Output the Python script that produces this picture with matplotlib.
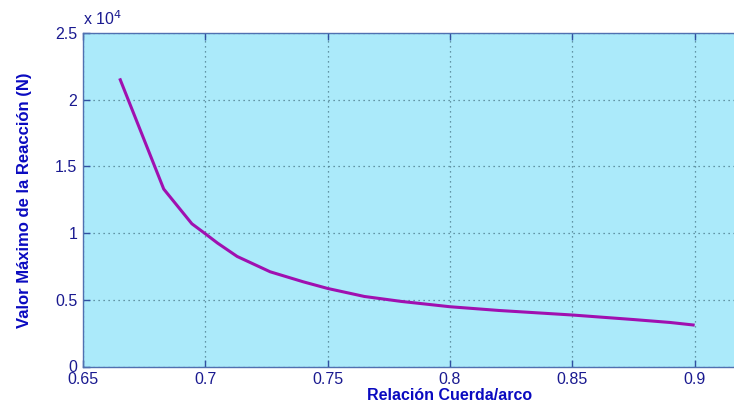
import matplotlib.pyplot as plt
from matplotlib.ticker import FuncFormatter

# relacion cuerda/arco vs valor maximo de la reaccion
relacion = [0.665, 0.683, 0.6945, 0.700, 0.705, 0.713, 0.7265, 0.740, 0.750,
            0.765, 0.780, 0.800, 0.820, 0.850, 0.875, 0.890, 0.900]
reaccion = [21600, 13300, 10700, 9950, 9250, 8250, 7100, 6350, 5850,
            5250, 4880, 4480, 4200, 3860, 3520, 3300, 3100]

xticks = [0.65, 0.7, 0.75, 0.8, 0.85, 0.9]
yticks = [0, 5000, 10000, 15000, 20000, 25000]

plt.rcParams['font.family'] = ['Liberation Sans', 'DejaVu Sans']

fig = plt.figure(figsize=(7.34, 4.07), dpi=100)
# eje derecho queda fuera de la imagen (xlim hasta 0.95)
ax = fig.add_axes([83 / 734, 1 - 366.5 / 407, 734 / 734, 333.5 / 407])
ax.set_facecolor('#abeafa')

ax.plot(relacion, reaccion, color='#a010b0', linewidth=2.2, solid_capstyle='butt')

ax.set_xlim(0.65, 0.95)
ax.set_ylim(0, 25000)
ax.set_xticks(xticks)
ax.set_yticks(yticks)
ax.xaxis.set_major_formatter(FuncFormatter(lambda v, p: ('%g' % round(v, 2))))
ax.yaxis.set_major_formatter(FuncFormatter(lambda v, p: ('%g' % (v / 1e4))))

ax.grid(True, linestyle=(0, (1, 3)), color='#4a7a8a', linewidth=0.9)
ax.tick_params(direction='in', length=5, width=1, color='#3050a0',
               labelcolor='#1a1a90', labelsize=11.5, top=True, right=True, pad=4)
for s in ax.spines.values():
    s.set_color('#5070b0')
    s.set_linewidth(1.0)

ax.set_xlabel('Relación Cuerda/arco', color='#0a0ac0', fontsize=11.5,
              fontweight='bold', labelpad=1)
ax.set_ylabel('Valor Máximo de la Reacción (N)', color='#0a0ac0', fontsize=12,
              fontweight='bold', labelpad=17)
fig.text(83 / 734, 1 - 28 / 407, 'x 10$^4$', color='#1a1a90', fontsize=11.5,
         ha='left', va='bottom')

fig.savefig('out.png', dpi=100)
